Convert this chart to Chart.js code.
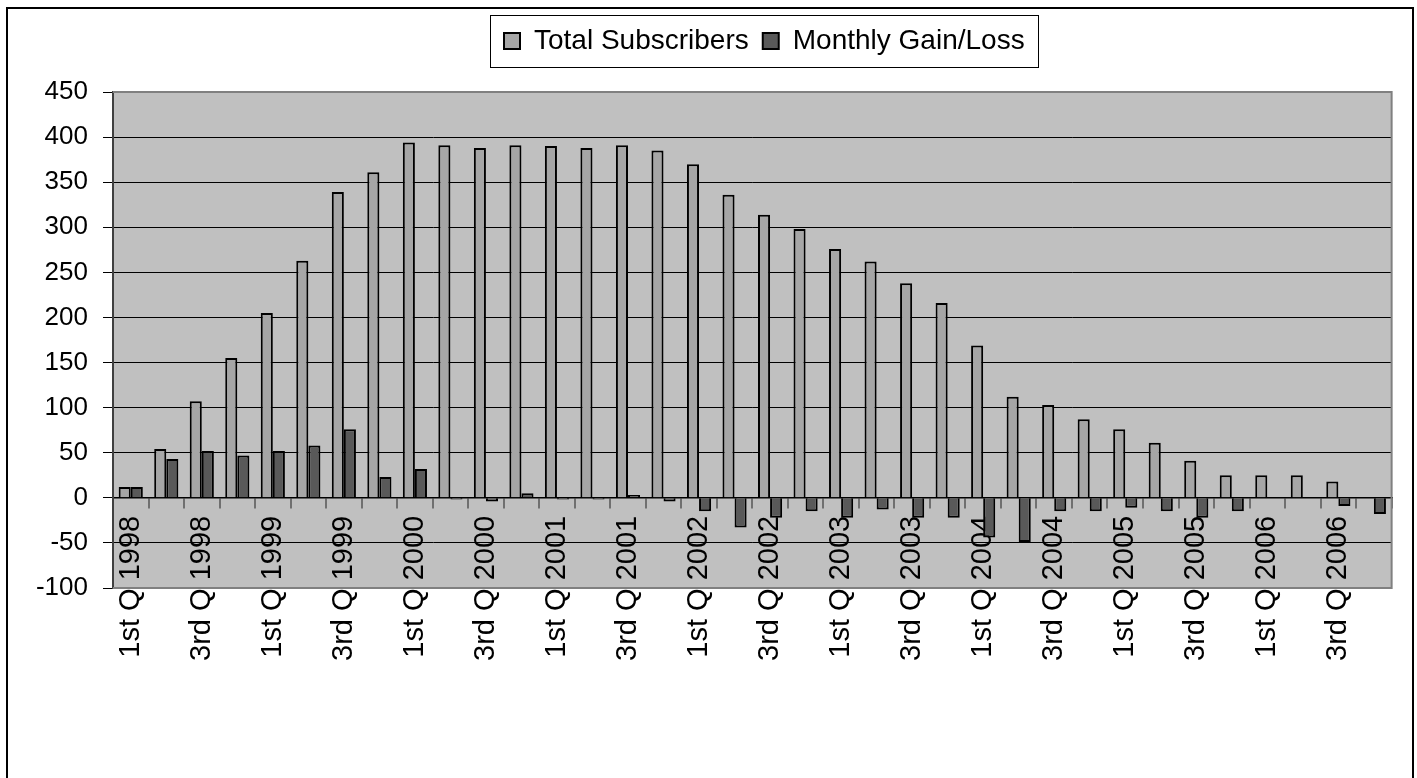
<!DOCTYPE html>
<html>
<head>
<meta charset="utf-8">
<script src="https://cdn.jsdelivr.net/npm/chart.js@4"></script>
<style>
  body { margin: 0; background: #fff; }
  canvas { display: block; }
</style>
</head>
<body>
<canvas id="mainChart" width="1417" height="778"></canvas>
<script>
// quarters 1998 - 2006
var years = ["1998", "1999", "2000", "2001", "2002", "2003", "2004", "2005", "2006"];
var quarters = ["1st Q", "2nd Q", "3rd Q", "4th Q"];

var totalSubscribers = [12, 54, 107, 155, 205, 263, 339, 361, 394, 391, 388, 391,
    390, 388, 391, 385, 370, 336, 314, 298, 276, 262, 238, 216,
    169, 112, 103, 87, 76, 61, 41, 25, 25, 25, 18, 0];
var monthlyGainLoss = [12, 43, 52, 47, 52, 58, 76, 23, 32, -2, -4, 5,
    -2, -2, 3, -4, -15, -33, -22, -15, -22, -13, -22, -22,
    -44, -49, -15, -15, -11, -15, -22, -15, 0, 0, -9, -18];

var yTicks = { min: -100, max: 450, step: 50 };

var BottomLabel = [];
for (var y = 0; y < years.length; y++) {
    for (var q = 0; q < quarters.length; q++) {
        BottomLabel.push(quarters[q] + " " + years[y]);
    }
}

var FONT = "'Liberation Sans', Arial, sans-serif";

// plot background, border, legend box, outer frame
var decoPlugin = {
    id: 'deco',
    beforeDraw: function (chart) {
        var c = chart.ctx, a = chart.chartArea;
        c.save();
        c.fillStyle = '#c0c0c0';
        c.fillRect(a.left, a.top, a.right - a.left, a.bottom - a.top);
        c.restore();

        // move legend to where the original has it
        var lg = chart.legend;
        var hbs = lg.legendHitBoxes;
        var dx = (a.left + a.right) / 2 + 12 - (lg.left + lg.right) / 2;
        var dy = 0;
        if (hbs.length) {
            dy = (a.top - 51) - (hbs[0].top + hbs[0].height / 2);
        }
        lg.left += dx;
        lg.right += dx;
        lg.top += dy;
        lg.bottom += dy;
        hbs.forEach(function (hb) { hb.left += dx; hb.top += dy; });
    },
    afterDatasetsDraw: function (chart) {
        var c = chart.ctx, a = chart.chartArea;
        c.save();
        c.strokeStyle = '#808080';
        c.lineWidth = 2;
        c.beginPath();
        c.moveTo(a.left, a.top);
        c.lineTo(a.right, a.top);
        c.lineTo(a.right, a.bottom);
        c.lineTo(a.left, a.bottom);
        c.stroke();
        c.restore();
    },
    afterDraw: function (chart) {
        var c = chart.ctx;
        var hbs = chart.legend.legendHitBoxes;
        if (hbs.length) {
            var l = hbs[0].left - 14;
            var last = hbs[hbs.length - 1];
            var r = last.left + last.width + 13;
            var t = hbs[0].top - 12;
            var b = hbs[0].top + hbs[0].height + 12;
            c.save();
            c.strokeStyle = '#000';
            c.lineWidth = 1;
            c.strokeRect(Math.round(l) + 0.5, Math.round(t) + 0.5, Math.round(r - l), Math.round(b - t));
            c.restore();
        }
        c.save();
        c.strokeStyle = '#000';
        c.lineWidth = 2;
        c.strokeRect(7, 8, 1406, 800);
        c.restore();
    }
};

var ctx = document.getElementById('mainChart').getContext('2d');
var chart = new Chart(ctx, {
    type: 'bar',
    data: {
        labels: BottomLabel,
        datasets: [{
            label: "Total Subscribers",
            backgroundColor: '#a6a6a6',
            borderColor: '#000',
            borderWidth: 2,
            data: totalSubscribers
        }, {
            label: "Monthly Gain/Loss",
            backgroundColor: '#595959',
            borderColor: '#000',
            borderWidth: 2,
            data: monthlyGainLoss
        }]
    },
    options: {
        responsive: false,
        animation: false,
        categoryPercentage: 0.68,
        barPercentage: 1.0,
        layout: { padding: { left: 10, right: 24, top: 40, bottom: 190 } },
        plugins: {
            tooltip: { enabled: false },
            legend: {
                position: 'top',
                labels: {
                    color: '#000',
                    font: { family: FONT, size: 28 },
                    boxWidth: 16,
                    boxHeight: 16,
                    padding: 14
                }
            }
        },
        scales: {
            x: {
                position: { y: 0 },
                grid: {
                    display: true,
                    drawOnChartArea: false,
                    drawTicks: true,
                    tickLength: 10,
                    color: '#707070',
                    lineWidth: 2
                },
                border: { display: true, color: '#000', width: 1.5 },
                ticks: {
                    autoSkip: false,
                    minRotation: 90,
                    maxRotation: 90,
                    padding: 8,
                    color: '#000',
                    font: { family: FONT, size: 29 },
                    callback: function (v, i) { return i % 2 === 0 ? this.getLabelForValue(v) : ''; }
                }
            },
            y: {
                min: yTicks.min,
                max: yTicks.max,
                afterFit: function (s) { s.width = 103; },
                grid: {
                    color: '#000',
                    lineWidth: 1,
                    tickLength: 10,
                    drawTicks: true
                },
                border: { display: true, color: '#404040', width: 2 },
                ticks: {
                    stepSize: yTicks.step,
                    padding: 15,
                    color: '#000',
                    font: { family: FONT, size: 26 }
                }
            }
        }
    },
    plugins: [decoPlugin]
});
</script>
</body>
</html>
